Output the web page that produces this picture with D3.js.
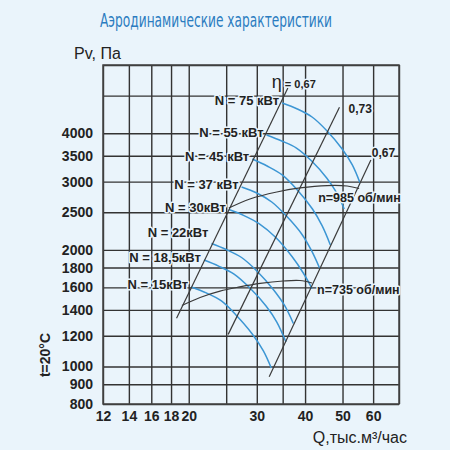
<!DOCTYPE html>
<html>
<head>
<meta charset="utf-8">
<script src="https://cdn.jsdelivr.net/npm/d3@7"></script>
<style>
  body { margin: 0; background: #eaf4fb; }
  svg { display: block; font-family: "Liberation Sans", Arial, sans-serif; }
</style>
</head>
<body>
<script>
// grid values (log axes)
var xGrid = [12, 14, 16, 18, 20, 25, 30, 35, 40, 50, 60, 70];
var xLabels = [12, 14, 16, 18, 20, 30, 40, 50, 60];
var yGrid = [800, 900, 1000, 1200, 1400, 1600, 1800, 2000, 2500, 3000, 3500, 4000, 5000, 6000];
var yLabels = [800, 900, 1000, 1200, 1400, 1600, 1800, 2000, 2500, 3000, 3500, 4000];

// efficiency lines: Q and P at both ends
var effNames = ["0,67", "0,73", "0,67"];
var effQ = [[18.6, 36.1], [25.3, 49.1], [32.3, 59.2]];
var effP = [[1331, 5234], [1210, 4667], [941, 3412]];

// fan curves at fixed speed
var rpmNames = ["n=985 об/мин", "n=735 об/мин"];
var rpmQ = [
    [25.4, 28.8, 33.8, 38.8, 45.6, 51.4, 55.2],
    [19.2, 21.4, 24.1, 27.1, 30.6, 35.1, 38.8, 41.7]
];
var rpmP = [
    [2564, 2706, 2821, 2889, 2931, 2923, 2880],
    [1437, 1507, 1565, 1604, 1638, 1662, 1667, 1642]
];

// power curves (blue)
var powerNames = ["N = 75 кВт", "N = 55 кВт", "N = 45 кВт", "N = 37 кВт",
    "N = 30кВт", "N = 22кВт", "N = 18,5кВт", "N = 15кВт"];
var powerQ = [
    [34.9, 38.2, 41.7, 45.6, 49.9, 53.0, 55.5],
    [31.8, 34.8, 38.0, 41.6, 45.5, 48.3, 50.5],
    [29.2, 31.9, 34.9, 38.2, 41.8, 44.3, 46.5],
    [27.4, 30.0, 32.8, 35.8, 39.2, 41.6, 43.6],
    [25.4, 27.8, 30.4, 33.6, 37.0, 39.5, 41.7],
    [22.9, 25.0, 27.4, 30.1, 33.1, 35.4, 37.3],
    [21.9, 23.9, 26.2, 28.8, 31.7, 33.8, 35.7],
    [20.3, 22.2, 24.3, 26.5, 29.2, 31.2, 32.7]
];
var powerP = [
    [4787, 4620, 4405, 4054, 3642, 3312, 2976],
    [3958, 3820, 3663, 3391, 3065, 2804, 2549],
    [3432, 3292, 3121, 2854, 2549, 2305, 2059],
    [2906, 2804, 2658, 2445, 2198, 1987, 1796],
    [2541, 2452, 2338, 2152, 1922, 1748, 1589],
    [2077, 2004, 1911, 1759, 1580, 1437, 1291],
    [1882, 1816, 1732, 1594, 1432, 1302, 1156],
    [1604, 1548, 1476, 1358, 1213, 1097, 991]
];

var bg = "#eaf4fb";
var width = 450, height = 450;
var plot = { left: 103, right: 399, top: 65, bottom: 404 };

var svg = d3.select("body").append("svg")
    .attr("width", width)
    .attr("height", height);

svg.append("rect").attr("width", width).attr("height", height).attr("fill", bg);

var x = d3.scaleLog().domain([12, 70]).range([plot.left, plot.right]);
var y = d3.scaleLog().domain([800, 6000]).range([plot.bottom, plot.top]);

// title
svg.append("text")
    .attr("x", 100).attr("y", 27)
    .attr("textLength", 232).attr("lengthAdjust", "spacingAndGlyphs")
    .style("font-family", "'Liberation Sans Narrow', 'DejaVu Sans Condensed', sans-serif")
    .style("font-size", "19px")
    .style("fill", "#2a7cc0")
    .text("Аэродинамические характеристики");

// grid + x labels
var xAxis = svg.append("g")
    .attr("transform", "translate(0," + plot.bottom + ")")
    .call(d3.axisBottom(x)
        .tickValues(xGrid)
        .tickSize(-(plot.bottom - plot.top))
        .tickPadding(7)
        .tickFormat(function (d) { return xLabels.indexOf(d) >= 0 ? d : ""; }));

var yAxis = svg.append("g")
    .attr("transform", "translate(" + plot.left + ",0)")
    .call(d3.axisLeft(y)
        .tickValues(yGrid)
        .tickSize(-(plot.right - plot.left))
        .tickPadding(10)
        .tickFormat(function (d) { return yLabels.indexOf(d) >= 0 ? d : ""; }));

[xAxis, yAxis].forEach(function (g) {
    g.select(".domain").remove();
    g.selectAll("line").attr("stroke", "#333").attr("stroke-width", 1.4);
    g.selectAll("text")
        .style("font-size", "14px")
        .style("font-weight", "bold")
        .style("fill", "#222");
});

svg.append("rect")
    .attr("x", plot.left).attr("y", plot.top)
    .attr("width", plot.right - plot.left).attr("height", plot.bottom - plot.top)
    .attr("fill", "none").attr("stroke", "#444").attr("stroke-width", 1.5);

var line = d3.line()
    .x(function (d) { return x(d[0]); })
    .y(function (d) { return y(d[1]); })
    .curve(d3.curveCatmullRom.alpha(0.5));

function pts(qs, ps) {
    return qs.map(function (q, i) { return [q, ps[i]]; });
}

// blue power curves
svg.append("g").selectAll("path")
    .data(powerQ)
    .enter().append("path")
    .attr("d", function (d, i) { return line(pts(d, powerP[i])); })
    .attr("fill", "none")
    .attr("stroke", "#3c96d4")
    .attr("stroke-width", 1.5);

// speed curves
svg.append("g").selectAll("path")
    .data(rpmQ)
    .enter().append("path")
    .attr("d", function (d, i) { return line(pts(d, rpmP[i])); })
    .attr("fill", "none")
    .attr("stroke", "#3a3a3a")
    .attr("stroke-width", 1.2);

// efficiency lines
svg.append("g").selectAll("line")
    .data(effQ)
    .enter().append("line")
    .attr("x1", function (d) { return x(d[0]); })
    .attr("x2", function (d) { return x(d[1]); })
    .attr("y1", function (d, i) { return y(effP[i][0]); })
    .attr("y2", function (d, i) { return y(effP[i][1]); })
    .attr("stroke", "#3a3a3a")
    .attr("stroke-width", 1.2);

function halo(sel) {
    sel.style("paint-order", "stroke")
        .style("stroke", bg)
        .style("stroke-width", "3px")
        .style("stroke-linejoin", "round")
        .style("fill", "#222")
        .style("font-weight", "bold");
}

// power labels, ending just left of curve start
var labels = svg.append("g");
labels.selectAll("text")
    .data(powerNames)
    .enter().append("text")
    .attr("x", function (d, i) { return x(powerQ[i][0]) - 3; })
    .attr("y", function (d, i) { return y(powerP[i][0]) + (i === 5 ? -6 : 2); })
    .attr("text-anchor", "end")
    .style("font-size", "13px")
    .text(function (d) { return d; })
    .call(halo);

// efficiency labels
var eta = svg.append("text")
    .attr("x", x(effQ[0][1]) - 16)
    .attr("y", y(effP[0][1]))
    .call(halo);
eta.append("tspan").style("font-size", "18px").style("font-weight", "normal").text("η");
eta.append("tspan").attr("dx", 3).style("font-size", "11px").text("= " + effNames[0]);

svg.append("text")
    .attr("x", x(effQ[1][1]) + 9)
    .attr("y", y(effP[1][1]) + 6)
    .style("font-size", "12px")
    .text(effNames[1])
    .call(halo);

svg.append("text")
    .attr("x", x(effQ[2][1]) + 1)
    .attr("y", y(effP[2][1]) - 3)
    .style("font-size", "12px")
    .text(effNames[2])
    .call(halo);

// speed labels
svg.append("text")
    .attr("x", x(rpmQ[0][rpmQ[0].length - 1]) - 41)
    .attr("y", y(rpmP[0][rpmP[0].length - 1]) + 14)
    .style("font-size", "12.5px")
    .text(rpmNames[0])
    .call(halo);

svg.append("text")
    .attr("x", x(rpmQ[1][rpmQ[1].length - 1]) + 5)
    .attr("y", y(rpmP[1][rpmP[1].length - 1]) + 11)
    .style("font-size", "12.5px")
    .text(rpmNames[1])
    .call(halo);

// axis titles
svg.append("text")
    .attr("x", 74).attr("y", 59)
    .style("font-size", "16px")
    .style("fill", "#222")
    .text("Pv, Па");

svg.append("text")
    .attr("x", 407).attr("y", 443)
    .attr("text-anchor", "end")
    .style("font-size", "16px")
    .style("fill", "#222")
    .text("Q,тыс.м³/час");

svg.append("text")
    .attr("transform", "translate(50,355) rotate(-90)")
    .attr("text-anchor", "middle")
    .style("font-size", "14px")
    .style("font-weight", "bold")
    .style("fill", "#222")
    .text("t=20°C");
</script>
</body>
</html>
